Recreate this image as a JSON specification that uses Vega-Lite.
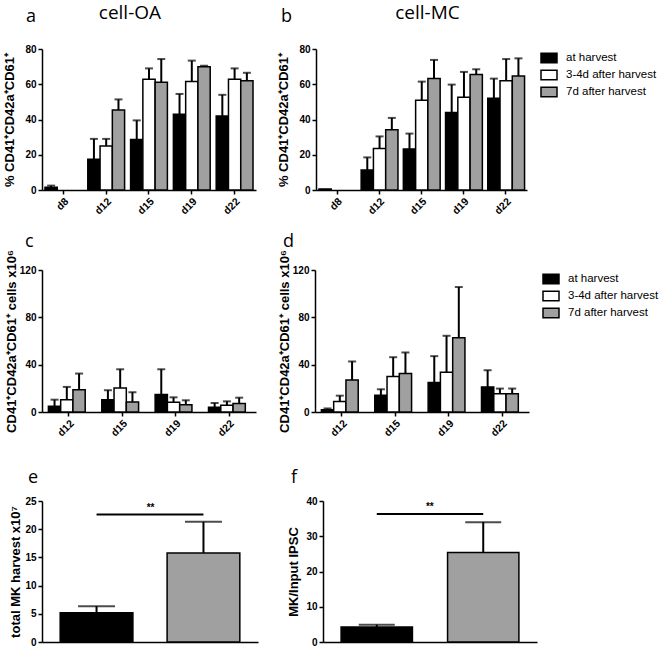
{
  "$schema": "https://vega.github.io/schema/vega-lite/v6.json",
  "background": "white",
  "padding": {"left": 3, "top": 4, "right": 0, "bottom": 0},
  "datasets": {
    "a": [
      {"day": "d8", "cond": "at harvest", "v": 1.5, "up": 2.5},
      {"day": "d12", "cond": "at harvest", "v": 17.4, "up": 29},
      {"day": "d12", "cond": "3-4d after harvest", "v": 25, "up": 29},
      {"day": "d12", "cond": "7d after harvest", "v": 45.4, "up": 51.4},
      {"day": "d15", "cond": "at harvest", "v": 28.6, "up": 39.5},
      {"day": "d15", "cond": "3-4d after harvest", "v": 62.8, "up": 69},
      {"day": "d15", "cond": "7d after harvest", "v": 61.2, "up": 74.3},
      {"day": "d19", "cond": "at harvest", "v": 43, "up": 54.5},
      {"day": "d19", "cond": "3-4d after harvest", "v": 61.5, "up": 73.4},
      {"day": "d19", "cond": "7d after harvest", "v": 70, "up": 70.5},
      {"day": "d22", "cond": "at harvest", "v": 42, "up": 54},
      {"day": "d22", "cond": "3-4d after harvest", "v": 62.8, "up": 69},
      {"day": "d22", "cond": "7d after harvest", "v": 62, "up": 66.5}
    ],
    "b": [
      {"day": "d8", "cond": "at harvest", "v": 0.6},
      {"day": "d12", "cond": "at harvest", "v": 11.3, "up": 18.5},
      {"day": "d12", "cond": "3-4d after harvest", "v": 23.6, "up": 30.4},
      {"day": "d12", "cond": "7d after harvest", "v": 34.2, "up": 40.9},
      {"day": "d15", "cond": "at harvest", "v": 23.3, "up": 32},
      {"day": "d15", "cond": "3-4d after harvest", "v": 50.9, "up": 61.5},
      {"day": "d15", "cond": "7d after harvest", "v": 63.3, "up": 73.8},
      {"day": "d19", "cond": "at harvest", "v": 44, "up": 59.8},
      {"day": "d19", "cond": "3-4d after harvest", "v": 52.6, "up": 67},
      {"day": "d19", "cond": "7d after harvest", "v": 65.6, "up": 68.5},
      {"day": "d22", "cond": "at harvest", "v": 52, "up": 63.2},
      {"day": "d22", "cond": "3-4d after harvest", "v": 62, "up": 74.3},
      {"day": "d22", "cond": "7d after harvest", "v": 64.7, "up": 74.7}
    ],
    "c": [
      {"day": "d12", "cond": "at harvest", "v": 4.8, "up": 10.4},
      {"day": "d12", "cond": "3-4d after harvest", "v": 10.4, "up": 21.2},
      {"day": "d12", "cond": "7d after harvest", "v": 18.9, "up": 32.5},
      {"day": "d15", "cond": "at harvest", "v": 10.4, "up": 18.4},
      {"day": "d15", "cond": "3-4d after harvest", "v": 20.3, "up": 36.1},
      {"day": "d15", "cond": "7d after harvest", "v": 8.5, "up": 16.7},
      {"day": "d19", "cond": "at harvest", "v": 14.7, "up": 36.1},
      {"day": "d19", "cond": "3-4d after harvest", "v": 8.2, "up": 12.4},
      {"day": "d19", "cond": "7d after harvest", "v": 6.2, "up": 9.9},
      {"day": "d22", "cond": "at harvest", "v": 4, "up": 7.6},
      {"day": "d22", "cond": "3-4d after harvest", "v": 5.6, "up": 9},
      {"day": "d22", "cond": "7d after harvest", "v": 7.1, "up": 12.1}
    ],
    "d": [
      {"day": "d12", "cond": "at harvest", "v": 2, "up": 3},
      {"day": "d12", "cond": "3-4d after harvest", "v": 8.8, "up": 13.8},
      {"day": "d12", "cond": "7d after harvest", "v": 27.1, "up": 42.7},
      {"day": "d15", "cond": "at harvest", "v": 14.1, "up": 19.2},
      {"day": "d15", "cond": "3-4d after harvest", "v": 29.9, "up": 46.3},
      {"day": "d15", "cond": "7d after harvest", "v": 32.5, "up": 50.3},
      {"day": "d19", "cond": "at harvest", "v": 24.9, "up": 47.2},
      {"day": "d19", "cond": "3-4d after harvest", "v": 33.6, "up": 64.4},
      {"day": "d19", "cond": "7d after harvest", "v": 62.7, "up": 105.6},
      {"day": "d22", "cond": "at harvest", "v": 21.2, "up": 35.3},
      {"day": "d22", "cond": "3-4d after harvest", "v": 15.5, "up": 19.8},
      {"day": "d22", "cond": "7d after harvest", "v": 15.5, "up": 19.8}
    ],
    "e": [
      {"method": "cell-OA", "v": 5.2, "up": 6.35},
      {"method": "cell-MC", "v": 15.8, "up": 21.3}
    ],
    "e_sig": [{"from": "cell-OA", "to": "cell-MC", "y": 22.6, "label": "**"}],
    "f": [
      {"method": "cell-OA", "v": 4.25, "up": 4.9},
      {"method": "cell-MC", "v": 25.4, "up": 34}
    ],
    "f_sig": [{"from": "cell-OA", "to": "cell-MC", "y": 36.3, "label": "**"}]
  },
  "resolve": {"scale": {"fill": "independent"}, "legend": {"fill": "independent"}},
  "spacing": 30,
  "vconcat": [
    {
      "spacing": 15,
      "resolve": {"scale": {"fill": "independent"}, "legend": {"fill": "independent"}},
      "vconcat": [
        {
          "spacing": 21,
          "resolve": {"scale": {"fill": "independent"}, "legend": {"fill": "independent"}},
          "hconcat": [
            {
              "title": {"text": "cell-OA", "anchor": "middle", "frame": "bounds", "font": "Open Sans", "fontSize": 19, "offset": -15},
              "resolve": {"scale": {"fill": "independent"}, "legend": {"fill": "independent"}},
              "vconcat": [
                {
                  "width": 214, "height": 141,
                  "title": {"text": "a", "dx": -16, "offset": 18},
                  "data": {"name": "a"},
                  "encoding": {
                    "x": {"field": "day", "type": "nominal", "sort": ["d8", "d12", "d15", "d19", "d22"], "scale": {"paddingInner": 0.14, "paddingOuter": 0.07}},
                    "xOffset": {"field": "cond", "type": "nominal", "sort": ["at harvest", "3-4d after harvest", "7d after harvest"], "scale": {"paddingInner": 0, "paddingOuter": 0}}
                  },
                  "layer": [
                    {"mark": {"type": "bar", "stroke": "black", "strokeWidth": 1.5},
                     "encoding": {
                       "y": {"field": "v", "type": "quantitative", "title": "% CD41⁺CD42a⁺CD61⁺", "scale": {"domain": [0, 80]}, "axis": {"values": [0, 20, 40, 60, 80], "titlePadding": 8}},
                       "fill": {"field": "cond", "type": "nominal", "scale": {"domain": ["at harvest", "3-4d after harvest", "7d after harvest"], "range": ["black", "white", "#a0a0a0"]}, "legend": null}}},
                    {"mark": {"type": "rule", "color": "black", "strokeWidth": 2},
                     "encoding": {"y": {"field": "v", "type": "quantitative", "title": "% CD41⁺CD42a⁺CD61⁺", "scale": {"domain": [0, 80]}, "axis": {"values": [0, 20, 40, 60, 80], "titlePadding": 8}}, "y2": {"field": "up"}}},
                    {"mark": {"type": "tick", "color": "black", "thickness": 2, "size": 8},
                     "encoding": {"y": {"field": "up", "type": "quantitative", "title": "% CD41⁺CD42a⁺CD61⁺", "scale": {"domain": [0, 80]}, "axis": {"values": [0, 20, 40, 60, 80], "titlePadding": 8}}}}
                  ]
                }
              ]
            },
            {
              "title": {"text": "cell-MC", "anchor": "middle", "frame": "bounds", "font": "Open Sans", "fontSize": 19, "offset": -15, "dx": -40},
              "resolve": {"scale": {"fill": "independent"}, "legend": {"fill": "independent"}},
              "vconcat": [
                {
                  "width": 211, "height": 141,
                  "title": {"text": "b", "dx": -35, "offset": 18},
                  "data": {"name": "b"},
                  "encoding": {
                    "x": {"field": "day", "type": "nominal", "sort": ["d8", "d12", "d15", "d19", "d22"], "scale": {"paddingInner": 0.14, "paddingOuter": 0.07}},
                    "xOffset": {"field": "cond", "type": "nominal", "sort": ["at harvest", "3-4d after harvest", "7d after harvest"], "scale": {"paddingInner": 0, "paddingOuter": 0}}
                  },
                  "layer": [
                    {"mark": {"type": "bar", "stroke": "black", "strokeWidth": 1.5},
                     "encoding": {
                       "y": {"field": "v", "type": "quantitative", "title": "% CD41⁺CD42a⁺CD61⁺", "scale": {"domain": [0, 80]}, "axis": {"values": [0, 20, 40, 60, 80], "titlePadding": 8}},
                       "fill": {"field": "cond", "type": "nominal", "sort": ["at harvest", "3-4d after harvest", "7d after harvest"], "scale": {"domain": ["at harvest", "3-4d after harvest", "7d after harvest"], "range": ["black", "white", "#a0a0a0"]}, "title": null}}},
                    {"mark": {"type": "rule", "color": "black", "strokeWidth": 2},
                     "encoding": {"y": {"field": "v", "type": "quantitative", "title": "% CD41⁺CD42a⁺CD61⁺", "scale": {"domain": [0, 80]}, "axis": {"values": [0, 20, 40, 60, 80], "titlePadding": 8}}, "y2": {"field": "up"}}},
                    {"mark": {"type": "tick", "color": "black", "thickness": 2, "size": 8},
                     "encoding": {"y": {"field": "up", "type": "quantitative", "title": "% CD41⁺CD42a⁺CD61⁺", "scale": {"domain": [0, 80]}, "axis": {"values": [0, 20, 40, 60, 80], "titlePadding": 8}}}}
                  ]
                }
              ]
            }
          ]
        },
        {
          "spacing": 22,
          "resolve": {"scale": {"fill": "independent"}, "legend": {"fill": "independent"}},
          "hconcat": [
            {
              "width": 214, "height": 142,
              "title": {"text": "c", "dx": -17, "offset": -1},
              "data": {"name": "c"},
              "encoding": {
                "x": {"field": "day", "type": "nominal", "sort": ["d12", "d15", "d19", "d22"], "scale": {"paddingInner": 0.23, "paddingOuter": 0.12}},
                "xOffset": {"field": "cond", "type": "nominal", "sort": ["at harvest", "3-4d after harvest", "7d after harvest"], "scale": {"paddingInner": 0, "paddingOuter": 0}}
              },
              "layer": [
                {"mark": {"type": "bar", "stroke": "black", "strokeWidth": 1.5},
                 "encoding": {
                   "y": {"field": "v", "type": "quantitative", "title": "CD41⁺CD42a⁺CD61⁺ cells x10⁶", "scale": {"domain": [0, 120]}, "axis": {"values": [0, 40, 80, 120], "titlePadding": 1}},
                   "fill": {"field": "cond", "type": "nominal", "scale": {"domain": ["at harvest", "3-4d after harvest", "7d after harvest"], "range": ["black", "white", "#a0a0a0"]}, "legend": null}}},
                {"mark": {"type": "rule", "color": "black", "strokeWidth": 2},
                 "encoding": {"y": {"field": "v", "type": "quantitative", "title": "CD41⁺CD42a⁺CD61⁺ cells x10⁶", "scale": {"domain": [0, 120]}, "axis": {"values": [0, 40, 80, 120], "titlePadding": 1}}, "y2": {"field": "up"}}},
                {"mark": {"type": "tick", "color": "black", "thickness": 2, "size": 8},
                 "encoding": {"y": {"field": "up", "type": "quantitative", "title": "CD41⁺CD42a⁺CD61⁺ cells x10⁶", "scale": {"domain": [0, 120]}, "axis": {"values": [0, 40, 80, 120], "titlePadding": 1}}}}
              ]
            },
            {
              "width": 214, "height": 142,
              "title": {"text": "d", "dx": -32, "offset": -1},
              "data": {"name": "d"},
              "encoding": {
                "x": {"field": "day", "type": "nominal", "sort": ["d12", "d15", "d19", "d22"], "scale": {"paddingInner": 0.23, "paddingOuter": 0.12}},
                "xOffset": {"field": "cond", "type": "nominal", "sort": ["at harvest", "3-4d after harvest", "7d after harvest"], "scale": {"paddingInner": 0, "paddingOuter": 0}}
              },
              "layer": [
                {"mark": {"type": "bar", "stroke": "black", "strokeWidth": 1.5},
                 "encoding": {
                   "y": {"field": "v", "type": "quantitative", "title": "CD41⁺CD42a⁺CD61⁺ cells x10⁶", "scale": {"domain": [0, 120]}, "axis": {"values": [0, 40, 80, 120], "titlePadding": 1}},
                   "fill": {"field": "cond", "type": "nominal", "sort": ["at harvest", "3-4d after harvest", "7d after harvest"], "scale": {"domain": ["at harvest", "3-4d after harvest", "7d after harvest"], "range": ["black", "white", "#a0a0a0"]}, "title": null}}},
                {"mark": {"type": "rule", "color": "black", "strokeWidth": 2},
                 "encoding": {"y": {"field": "v", "type": "quantitative", "title": "CD41⁺CD42a⁺CD61⁺ cells x10⁶", "scale": {"domain": [0, 120]}, "axis": {"values": [0, 40, 80, 120], "titlePadding": 1}}, "y2": {"field": "up"}}},
                {"mark": {"type": "tick", "color": "black", "thickness": 2, "size": 8},
                 "encoding": {"y": {"field": "up", "type": "quantitative", "title": "CD41⁺CD42a⁺CD61⁺ cells x10⁶", "scale": {"domain": [0, 120]}, "axis": {"values": [0, 40, 80, 120], "titlePadding": 1}}}}
              ]
            }
          ]
        }
      ]
    },
    {
      "spacing": 29,
      "resolve": {"scale": {"fill": "independent"}, "legend": {"fill": "independent"}},
      "hconcat": [
        {
          "width": 216, "height": 141,
          "title": {"text": "e", "dx": -14, "offset": 9},
          "layer": [
            {"data": {"name": "e"}, "mark": {"type": "bar", "stroke": "black", "strokeWidth": 1.5},
             "encoding": {
               "x": {"field": "method", "type": "nominal", "scale": {"domain": ["cell-OA", "cell-MC"], "paddingInner": 0.32, "paddingOuter": 0.17}, "axis": {"labels": false, "ticks": false, "title": null}},
               "y": {"field": "v", "type": "quantitative", "title": "total MK harvest x10⁷", "scale": {"domain": [0, 25]}, "axis": {"values": [0, 5, 10, 15, 20, 25], "titlePadding": 2}},
               "fill": {"field": "method", "type": "nominal", "scale": {"domain": ["cell-OA", "cell-MC"], "range": ["black", "#a0a0a0"]}, "legend": null}}},
            {"data": {"name": "e"}, "mark": {"type": "rule", "color": "black", "strokeWidth": 2},
             "encoding": {
               "x": {"field": "method", "type": "nominal", "scale": {"domain": ["cell-OA", "cell-MC"]}, "axis": {"labels": false, "ticks": false, "title": null}},
               "y": {"field": "v", "type": "quantitative", "title": "total MK harvest x10⁷", "scale": {"domain": [0, 25]}, "axis": {"values": [0, 5, 10, 15, 20, 25], "titlePadding": 2}}, "y2": {"field": "up"}}},
            {"data": {"name": "e"}, "mark": {"type": "tick", "color": "black", "thickness": 2, "size": 37},
             "encoding": {
               "x": {"field": "method", "type": "nominal", "scale": {"domain": ["cell-OA", "cell-MC"]}, "axis": {"labels": false, "ticks": false, "title": null}},
               "y": {"field": "up", "type": "quantitative", "title": "total MK harvest x10⁷", "scale": {"domain": [0, 25]}, "axis": {"values": [0, 5, 10, 15, 20, 25], "titlePadding": 2}}}},
            {"data": {"name": "e_sig"}, "mark": {"type": "rule", "color": "black", "strokeWidth": 2},
             "encoding": {
               "x": {"field": "from", "type": "nominal", "scale": {"domain": ["cell-OA", "cell-MC"]}, "axis": {"labels": false, "ticks": false, "title": null}},
               "x2": {"field": "to"},
               "y": {"field": "y", "type": "quantitative", "title": "total MK harvest x10⁷", "scale": {"domain": [0, 25]}, "axis": {"values": [0, 5, 10, 15, 20, 25], "titlePadding": 2}}}},
            {"data": {"name": "e_sig"}, "mark": {"type": "text", "dx": 54, "dy": -2, "baseline": "bottom", "font": "Liberation Sans", "fontSize": 10, "fontWeight": "bold", "color": "black"},
             "encoding": {
               "x": {"field": "from", "type": "nominal", "scale": {"domain": ["cell-OA", "cell-MC"]}, "axis": {"labels": false, "ticks": false, "title": null}},
               "y": {"field": "y", "type": "quantitative", "title": "total MK harvest x10⁷", "scale": {"domain": [0, 25]}, "axis": {"values": [0, 5, 10, 15, 20, 25], "titlePadding": 2}},
               "text": {"field": "label"}}}
          ]
        },
        {
          "width": 214, "height": 141,
          "title": {"text": "f", "dx": -32, "offset": 9},
          "layer": [
            {"data": {"name": "f"}, "mark": {"type": "bar", "stroke": "black", "strokeWidth": 1.5},
             "encoding": {
               "x": {"field": "method", "type": "nominal", "scale": {"domain": ["cell-OA", "cell-MC"], "paddingInner": 0.33, "paddingOuter": 0.17}, "axis": {"labels": false, "ticks": false, "title": null}},
               "y": {"field": "v", "type": "quantitative", "title": "MK/Input IPSC", "scale": {"domain": [0, 40]}, "axis": {"values": [0, 10, 20, 30, 40]}},
               "fill": {"field": "method", "type": "nominal", "scale": {"domain": ["cell-OA", "cell-MC"], "range": ["black", "#a0a0a0"]}, "legend": null}}},
            {"data": {"name": "f"}, "mark": {"type": "rule", "color": "black", "strokeWidth": 2},
             "encoding": {
               "x": {"field": "method", "type": "nominal", "scale": {"domain": ["cell-OA", "cell-MC"]}, "axis": {"labels": false, "ticks": false, "title": null}},
               "y": {"field": "v", "type": "quantitative", "title": "MK/Input IPSC", "scale": {"domain": [0, 40]}, "axis": {"values": [0, 10, 20, 30, 40]}}, "y2": {"field": "up"}}},
            {"data": {"name": "f"}, "mark": {"type": "tick", "color": "black", "thickness": 2, "size": 36},
             "encoding": {
               "x": {"field": "method", "type": "nominal", "scale": {"domain": ["cell-OA", "cell-MC"]}, "axis": {"labels": false, "ticks": false, "title": null}},
               "y": {"field": "up", "type": "quantitative", "title": "MK/Input IPSC", "scale": {"domain": [0, 40]}, "axis": {"values": [0, 10, 20, 30, 40]}}}},
            {"data": {"name": "f_sig"}, "mark": {"type": "rule", "color": "black", "strokeWidth": 2},
             "encoding": {
               "x": {"field": "from", "type": "nominal", "scale": {"domain": ["cell-OA", "cell-MC"]}, "axis": {"labels": false, "ticks": false, "title": null}},
               "x2": {"field": "to"},
               "y": {"field": "y", "type": "quantitative", "title": "MK/Input IPSC", "scale": {"domain": [0, 40]}, "axis": {"values": [0, 10, 20, 30, 40]}}}},
            {"data": {"name": "f_sig"}, "mark": {"type": "text", "dx": 53, "dy": -2, "baseline": "bottom", "font": "Liberation Sans", "fontSize": 10, "fontWeight": "bold", "color": "black"},
             "encoding": {
               "x": {"field": "from", "type": "nominal", "scale": {"domain": ["cell-OA", "cell-MC"]}, "axis": {"labels": false, "ticks": false, "title": null}},
               "y": {"field": "y", "type": "quantitative", "title": "MK/Input IPSC", "scale": {"domain": [0, 40]}, "axis": {"values": [0, 10, 20, 30, 40]}},
               "text": {"field": "label"}}}
          ]
        }
      ]
    }
  ],
  "config": {
    "view": {"stroke": null},
    "axis": {
      "domainColor": "black", "domainWidth": 1.5, "tickColor": "black", "tickWidth": 1.5, "tickSize": 4,
      "labelFont": "Liberation Sans", "labelFontWeight": "bold", "labelFontSize": 10, "labelColor": "black", "labelPadding": 2,
      "labelOverlap": false,
      "titleFont": "Liberation Sans", "titleFontWeight": "bold", "titleFontSize": 13, "titleColor": "black", "titlePadding": 5,
      "grid": false
    },
    "axisX": {"labelAngle": -45, "labelFontSize": 10.5, "title": null},
    "legend": {
      "orient": "right", "offset": 13, "padding": 0, "labelFont": "Liberation Sans", "labelFontSize": 11.5, "labelColor": "black",
      "symbolType": "M-1,-0.6H1V0.6H-1Z", "symbolSize": 256, "symbolStrokeColor": "black", "symbolStrokeWidth": 1.5,
      "rowPadding": 0, "labelOffset": 8
    },
    "title": {"font": "Open Sans", "fontSize": 18, "fontWeight": "normal", "color": "black", "anchor": "start", "frame": "group"}
  }
}
